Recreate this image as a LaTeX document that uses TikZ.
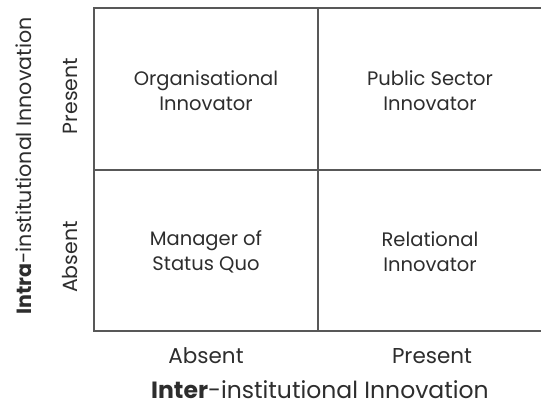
\documentclass[tikz,border=0pt]{standalone}
\usepackage{fontspec}
\setmainfont{Poppins}
\definecolor{gridline}{RGB}{88,88,88}
\definecolor{ink}{RGB}{45,45,45}
\begin{document}
\begin{tikzpicture}[x=1pt,y=-1pt,
  grid/.style={draw=gridline,line width=1.6pt},
  cell/.style={text=ink,font=\fontsize{19.5}{25}\selectfont,align=center},
  level/.style={text=ink,font=\fontsize{21.5}{24}\selectfont},
  vlevel/.style={text=ink,font=\fontsize{20.5}{24}\selectfont,rotate=90},
  axis/.style={text=ink,font=\fontsize{23.5}{26}\selectfont},
  vaxis/.style={text=ink,font=\fontsize{20.6}{24}\selectfont,rotate=90}]
  \useasboundingbox (0,0) rectangle (541,404);
  % 2x2 matrix frame
  \coordinate (tl) at (94,8);
  \coordinate (tr) at (541,8);
  \coordinate (bl) at (94,331);
  \coordinate (br) at (541,331);
  \coordinate (mt) at (318,8);
  \coordinate (mb) at (318,331);
  \coordinate (ml) at (94,170);
  \coordinate (mr) at (541,170);
  \draw[grid] (tr) -- (tl) -- (bl) -- (br);
  \draw[grid] (mt) -- (mb);
  \draw[grid] (ml) -- (mr);
  % quadrant labels
  \node[cell] (orgInn) at (206,91) {Organisational\\Innovator};
  \node[cell] (pubInn) at (430,91) {Public Sector\\Innovator};
  \node[cell] (msq) at (206,252) {Manager of\\Status Quo};
  \node[cell] (relInn) at (430,252) {Relational\\Innovator};
  % axis levels
  \node[vlevel] (yPres) at (70,96) {Present};
  \node[vlevel] (yAbs) at (70,257) {Absent};
  \node[level] (xAbs) at (206,356) {Absent};
  \node[level] (xPres) at (432,356) {Present};
  % axis titles
  \node[vaxis] (yTitle) at (24,166) {\textbf{Intra}-institutional Innovation};
  \node[axis,anchor=base,inner sep=0pt,text depth=0pt] (xTitle) at (320,398) {\textbf{Inter}-institutional Innovation};
\end{tikzpicture}
\end{document}
